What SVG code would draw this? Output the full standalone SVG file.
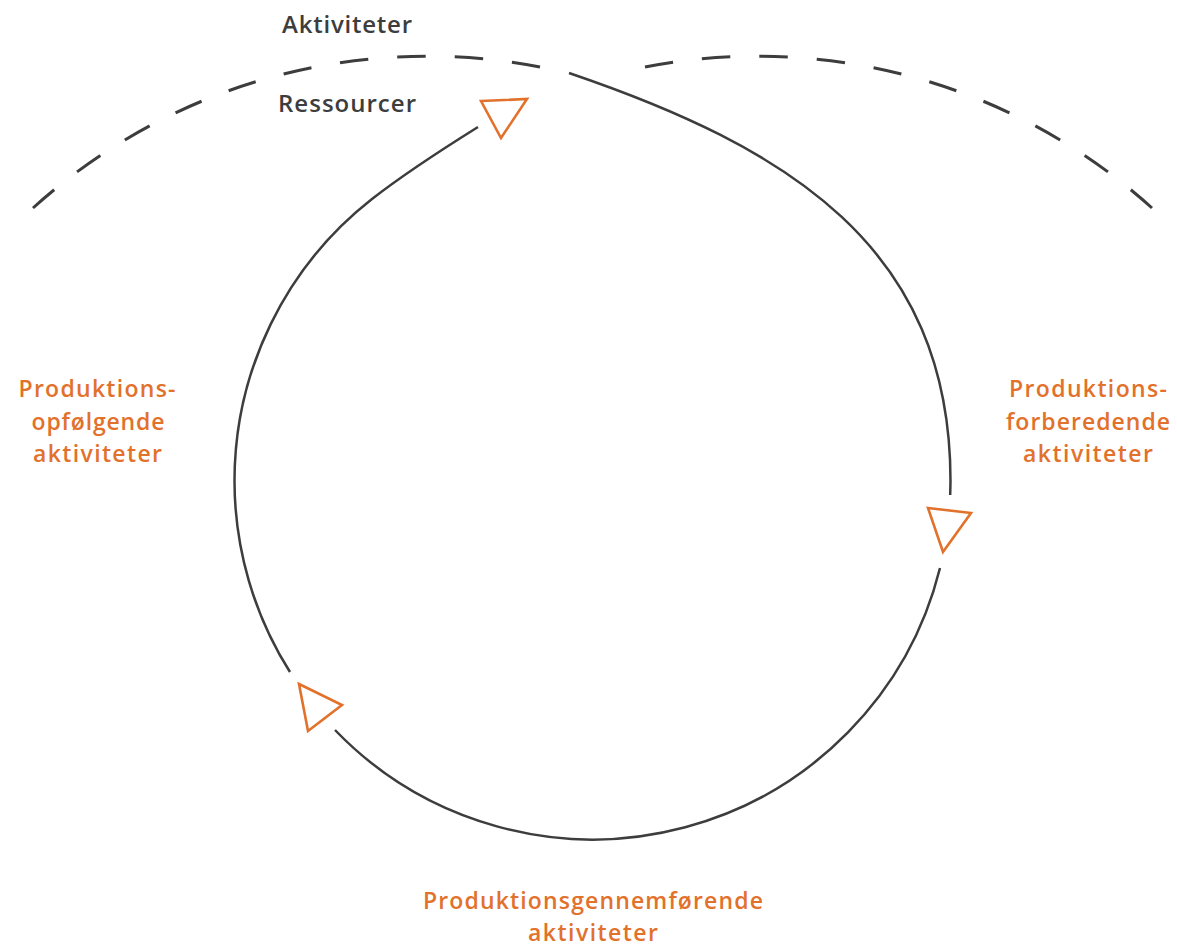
<svg xmlns="http://www.w3.org/2000/svg" width="1177" height="946" viewBox="0 0 1177 946">
<style>
  .bg{fill:#ffffff}
  .loop{fill:none;stroke:#3d3d3d;stroke-width:2.5;stroke-linecap:butt}
  .dash{fill:none;stroke:#3d3d3d;stroke-width:3;stroke-dasharray:28.5 29}
  .arrow{fill:#ffffff;stroke:#e2712b;stroke-width:2.6;stroke-linejoin:miter}
  .dark{font-family:"Open Sans","Liberation Sans",sans-serif;font-weight:600;font-size:24px;fill:#3d3d3d;text-anchor:middle}
  .orange{font-family:"Open Sans","Liberation Sans",sans-serif;font-weight:600;font-size:23px;fill:#e2712b;text-anchor:middle}
</style>
<rect class="bg" x="0" y="0" width="1177" height="946"/>
<g id="connectors">
  <path class="dash" d="M 540 67 A 588.4 588.4 0 0 0 33 208"/>
  <path class="dash" d="M 645 67 A 588.4 588.4 0 0 1 1152 208"/>
  <path class="loop" d="M 569 73 C 786.8 147.1 950.5 246 950.5 481 L 950.2 495"/>
  <path class="loop" d="M 940 568 A 358 358 0 0 1 335 730"/>
  <path class="loop" d="M 290 672 A 358 358 0 0 1 234.5 481 A 358 358 0 0 1 372 199 C 406 172.5 441.5 149.8 478 127"/>
  <polygon class="arrow" points="481,101 527,99 501,138"/>
  <polygon class="arrow" points="928,508 971,513 943,552"/>
  <polygon class="arrow" points="299,684 342,705 308,731"/>
</g>
<g id="node-aktiviteter"><text class="dark" x="347" y="33" textLength="130" lengthAdjust="spacing">Aktiviteter</text></g>
<g id="node-ressourcer"><text class="dark" x="347" y="112" textLength="138" lengthAdjust="spacing">Ressourcer</text></g>
<g id="node-opfolgende">
  <text class="orange" x="97" y="397" textLength="157" lengthAdjust="spacing">Produktions-</text>
  <text class="orange" x="98" y="430" textLength="133" lengthAdjust="spacing">opfølgende</text>
  <text class="orange" x="97.5" y="462" textLength="129" lengthAdjust="spacing">aktiviteter</text>
</g>
<g id="node-forberedende">
  <text class="orange" x="1088" y="397" textLength="158" lengthAdjust="spacing">Produktions-</text>
  <text class="orange" x="1088" y="430" textLength="164" lengthAdjust="spacing">forberedende</text>
  <text class="orange" x="1088" y="462" textLength="130" lengthAdjust="spacing">aktiviteter</text>
</g>
<g id="node-gennemforende">
  <text class="orange" x="593" y="909" textLength="340" lengthAdjust="spacing">Produktionsgennemførende</text>
  <text class="orange" x="593" y="941" textLength="130" lengthAdjust="spacing">aktiviteter</text>
</g>
</svg>
